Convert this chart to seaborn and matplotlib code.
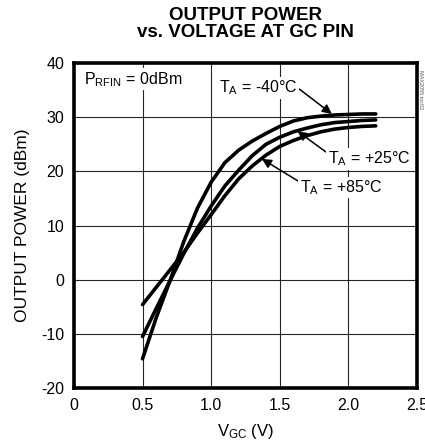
import matplotlib
matplotlib.use("Agg")
import matplotlib.pyplot as plt
import seaborn as sns
import pandas as pd

# ----------------------------------------------------------
# DATA
# ----------------------------------------------------------

vgc = [0.5, 0.6, 0.7, 0.8, 0.9, 1.0, 1.1, 1.2, 1.3, 1.4,
       1.5, 1.6, 1.7, 1.8, 1.9, 2.0, 2.1, 2.2]

pout_m40 = [-14.6, -7.0, -0.2, 7.0, 13.2, 18.0, 21.6, 23.9, 25.6, 27.0,
            28.3, 29.3, 29.9, 30.2, 30.4, 30.5, 30.6, 30.6]
pout_p25 = [-10.5, -5.3, -0.2, 4.8, 9.5, 13.6, 17.3, 20.2, 22.9, 25.0,
            26.3, 27.3, 28.0, 28.6, 29.0, 29.2, 29.4, 29.5]
pout_p85 = [-4.6, -1.4, 1.8, 5.0, 8.6, 12.0, 15.5, 18.6, 21.0, 23.0,
            24.6, 25.7, 26.6, 27.3, 27.8, 28.1, 28.3, 28.4]

x_ticks = [0, 0.5, 1.0, 1.5, 2.0, 2.5]
x_tick_labels = ["0", "0.5", "1.0", "1.5", "2.0", "2.5"]
y_ticks = [-20, -10, 0, 10, 20, 30, 40]

df = pd.DataFrame({
    "VGC": vgc * 3,
    "Pout": pout_m40 + pout_p25 + pout_p85,
    "Temp": ["-40"] * len(vgc) + ["+25"] * len(vgc) + ["+85"] * len(vgc),
})

# ----------------------------------------------------------
# STYLE
# ----------------------------------------------------------

sns.set_style("white")
plt.rcParams["font.family"] = ["Liberation Sans", "DejaVu Sans"]
plt.rcParams["mathtext.fontset"] = "custom"
plt.rcParams["mathtext.rm"] = "Liberation Sans"
plt.rcParams["mathtext.default"] = "regular"
plt.rcParams["axes.unicode_minus"] = False
plt.rcParams["text.color"] = "black"
plt.rcParams["axes.labelcolor"] = "black"

fig = plt.figure(figsize=(4.25, 4.47), dpi=100)
ax = fig.add_axes([0.174, 0.132, 0.807, 0.727])

# ----------------------------------------------------------
# PLOT
# ----------------------------------------------------------

for temp in ["-40", "+25", "+85"]:
    sns.lineplot(
        data=df[df["Temp"] == temp],
        x="VGC",
        y="Pout",
        color="black",
        linewidth=2.6,
        ax=ax,
    )

ax.set_xlim(0, 2.5)
ax.set_ylim(-20, 40)
ax.set_xticks(x_ticks)
ax.set_xticklabels(x_tick_labels)
ax.set_yticks(y_ticks)
ax.tick_params(axis="both", length=0, labelsize=11.5, pad=7, colors="black")

ax.grid(True, color="black", linewidth=0.8, alpha=0.85)
for side in ax.spines.values():
    side.set_visible(True)
    side.set_color("black")
    side.set_linewidth(2.6)

ax.set_xlabel(r"V$_{GC}$ (V)", fontsize=12, labelpad=7)
ax.set_ylabel("OUTPUT POWER (dBm)", fontsize=12.5, labelpad=8)

fig.suptitle(
    "OUTPUT POWER\nvs. VOLTAGE AT GC PIN",
    x=0.578, y=0.985, fontsize=13.5, fontweight="bold", linespacing=1.0,
)

# ----------------------------------------------------------
# ANNOTATIONS
# ----------------------------------------------------------

white_box = dict(facecolor="white", edgecolor="none", pad=1.0)

ax.text(0.07, 37.0, r"P$_{RFIN}$ = 0dBm", fontsize=11.5, va="center",
        bbox=white_box)

arrow = dict(arrowstyle="-|>", color="black", lw=1.1, mutation_scale=14,
             shrinkA=0, shrinkB=0)

ax.annotate(r"T$_{A}$ = -40°C", xy=(1.88, 30.6), xytext=(1.06, 35.4),
            fontsize=11.5, va="center", ha="left", bbox=white_box,
            arrowprops=dict(arrow, relpos=(1.0, 0.5)))
ax.annotate(r"T$_{A}$ = +25°C", xy=(1.63, 27.4), xytext=(1.85, 22.3),
            fontsize=11.5, va="center", ha="left", bbox=white_box,
            arrowprops=dict(arrow, relpos=(0.0, 0.8)))
ax.annotate(r"T$_{A}$ = +85°C", xy=(1.37, 22.3), xytext=(1.645, 17.0),
            fontsize=11.5, va="center", ha="left", bbox=white_box,
            arrowprops=dict(arrow, relpos=(0.0, 0.8)))

fig.text(0.99, 0.80, "MAX2055 toc02", rotation=270, fontsize=4,
         color="#555555", ha="center", va="center")

fig.savefig("out.png", dpi=100)
